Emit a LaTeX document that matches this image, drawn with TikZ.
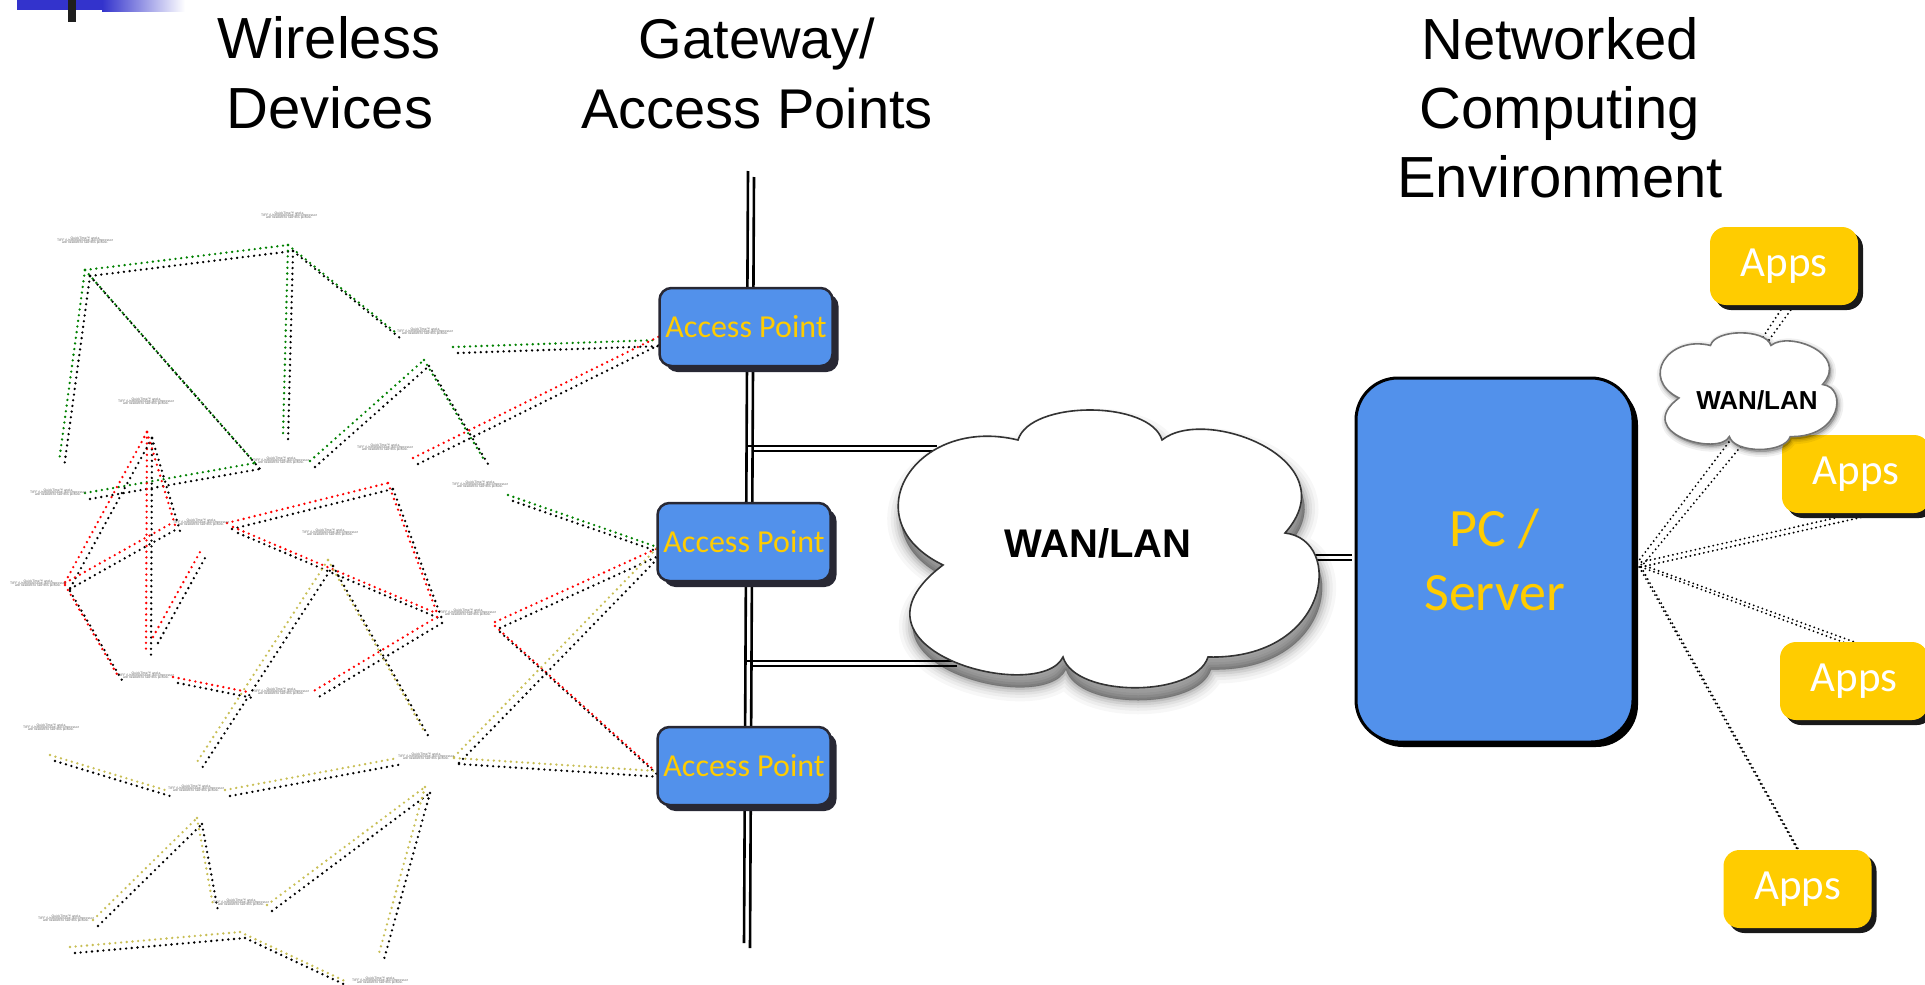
\documentclass[tikz,border=0pt]{standalone}
\usepackage{fontspec}
\setmainfont{Liberation Sans}
\newfontfamily\carlito{Carlito}
\usetikzlibrary{shadows,calc}
\pgfdeclarelayer{bg}
\pgfsetlayers{bg,main}
% let tightly packed caption lines overlap instead of being pushed apart
\lineskiplimit=-20pt

\definecolor{boxblue}{RGB}{82,145,235}
\definecolor{apborder}{RGB}{40,40,52}
\definecolor{gold}{RGB}{255,204,0}
\definecolor{meshgreen}{RGB}{0,128,0}
\definecolor{meshred}{RGB}{255,0,0}
\definecolor{mesholive}{RGB}{200,190,85}
\definecolor{barblue}{RGB}{51,51,204}

\tikzset{
  meshdots/.style={line width=2.6pt, line cap=round, dash pattern=on 0pt off 5.7pt},
  linkdots/.style={line width=2.1pt, line cap=round, dash pattern=on 0pt off 4.6pt, black},
  busline/.style={line width=2.6pt, black},
  headline/.style={font=\fontsize{58}{69}\selectfont, anchor=base, inner sep=0pt},
  gatehead/.style={font=\fontsize{56}{69}\selectfont, anchor=base, inner sep=0pt},
  apbox/.style={rectangle, rounded corners=12pt, fill=boxblue, draw=apborder,
    line width=2.5pt, minimum width=173pt, minimum height=78pt, inner sep=0pt,
    font=\carlito\fontsize{32}{36}\selectfont, text=gold,
    drop shadow={shadow xshift=6pt, shadow yshift=-6pt, fill=apborder, opacity=1}},
  pcbox/.style={rectangle, rounded corners=42pt, fill=boxblue, draw=black,
    line width=3pt, minimum width=277pt, minimum height=364pt, inner sep=0pt,
    align=center, font=\carlito\fontsize{54}{64}\selectfont, text=gold,
    drop shadow={shadow xshift=5pt, shadow yshift=-5pt, fill=black, opacity=1}},
  appsbox/.style={rectangle, rounded corners=16pt, fill=gold,
    minimum width=148pt, minimum height=78pt, inner sep=0pt,
    font=\carlito\fontsize{43}{48}\selectfont, text=white,
    drop shadow={shadow xshift=5pt, shadow yshift=-5pt, fill=black!90, opacity=1}},
  cloudtext/.style={font=\bfseries\fontsize{40}{44}\selectfont, inner sep=0pt},
  smallcloudtext/.style={font=\bfseries\fontsize{26}{30}\selectfont, inner sep=0pt},
  qtlabel/.style={anchor=west, inner sep=0pt, align=center, text=black!60,
    font=\fontsize{3.4}{2}\selectfont},
}

% one mesh link: black shadow copy, then the coloured dotted line
\newcommand\meshseg[3]{%
  \draw[meshdots, black, shift={(5,6)}] #2 -- #3;
  \draw[meshdots, #1] #2 -- #3;}

% outline of a cloud, centred on the origin
\newcommand\cloudoutline{(-168,16.5) .. controls (-261,-28.5) and (-196,-133.5) .. (-93,-108.5)
  .. controls (-81,-148.5) and (39,-148.5) .. (51,-108.5)
  .. controls (94,-143.5) and (239,-88.5) .. (174,-15.5)
  .. controls (234,-8.5) and (219,111.5) .. (97,108.5)
  .. controls (84,149.5) and (-36,149.5) .. (-48,108.5)
  .. controls (-71,156.5) and (-281,101.5) .. (-168,16.5) -- cycle}

\begin{document}
\begin{tikzpicture}[x=1pt, y=-1pt]
\useasboundingbox (0,0) rectangle (1925,985);

% corner ornament
\fill[barblue] (17,0) rectangle (102,10);
\shade[left color=barblue, right color=white] (102,0) rectangle (185,11);
\fill[black!88] (68,0) rectangle (76,22);

% column headings
\node[headline] (hw1) at (329,58) {Wireless};
\node[headline] (hw2) at (330,128) {Devices};
\node[gatehead] (hg1) at (757,58) {Gateway/};
\node[gatehead] (hg2) at (757,128) {Access Points};
\node[headline] (hn1) at (1560,59) {Networked};
\node[headline] (hn2) at (1560,128) {Computing};
\node[headline] (hn3) at (1560,197) {Environment};

% wireless mesh
\meshseg{meshgreen}{(85,270)}{(288,245)}
\meshseg{meshgreen}{(85,270)}{(59,462)}
\meshseg{meshgreen}{(85,270)}{(255,463)}
\meshseg{meshgreen}{(288,245)}{(283,436)}
\meshseg{meshgreen}{(288,245)}{(395,332)}
\meshseg{meshgreen}{(453,347)}{(658,340)}
\meshseg{meshgreen}{(310,461)}{(424,360)}
\meshseg{meshgreen}{(424,360)}{(483,458)}
\meshseg{meshgreen}{(85,493)}{(255,463)}
\meshseg{meshgreen}{(508,495)}{(657,547)}

\meshseg{meshred}{(413,458)}{(660,336)}
\meshseg{meshred}{(147,432)}{(146,650)}
\meshseg{meshred}{(147,432)}{(63,586)}
\meshseg{meshred}{(147,432)}{(175,525)}
\meshseg{meshred}{(65,583)}{(172,523)}
\meshseg{meshred}{(65,585)}{(118,676)}
\meshseg{meshred}{(173,677)}{(248,692)}
\meshseg{meshred}{(227,523)}{(388,483)}
\meshseg{meshred}{(388,483)}{(437,613)}
\meshseg{meshred}{(233,527)}{(436,613)}
\meshseg{meshred}{(437,617)}{(312,692)}
\meshseg{meshred}{(495,622)}{(658,548)}
\meshseg{meshred}{(495,626)}{(655,771)}
\meshseg{meshred}{(153,637)}{(200,552)}

\meshseg{mesholive}{(328,560)}{(197,762)}
\meshseg{mesholive}{(328,560)}{(425,733)}
\meshseg{mesholive}{(454,757)}{(657,548)}
\meshseg{mesholive}{(454,758)}{(657,771)}
\meshseg{mesholive}{(50,755)}{(165,790)}
\meshseg{mesholive}{(225,790)}{(398,758)}
\meshseg{mesholive}{(93,920)}{(197,818)}
\meshseg{mesholive}{(197,818)}{(213,905)}
\meshseg{mesholive}{(267,905)}{(425,787)}
\meshseg{mesholive}{(425,787)}{(378,957)}
\meshseg{mesholive}{(70,947)}{(240,932)}
\meshseg{mesholive}{(240,932)}{(347,982)}

% device placeholders
\foreach \x/\y [count=\i] in {261/216, 57/241, 397/332, 118/402, 357/448, 253/461,
    30/493, 452/485, 173/523, 302/533, 10/584, 118/676, 253/692, 440/613,
    23/728, 398/757, 168/789, 213/903, 38/919, 352/981}
  \node[qtlabel] (qt\i) at (\x,\y)
    {QuickTime™ and a\\TIFF (Uncompressed) decompressor\\are needed to see this picture.};

% access points, server and applications
\node[apbox] (ap1) at (746,327) {Access Point};
\node[apbox] (ap2) at (744,542) {Access Point};
\node[apbox] (ap3) at (744,766) {Access Point};
\node[pcbox] (pc) at (1494.5,560) {PC /\\Server};
\node[appsbox] (apps1) at (1784,266) {Apps};
\node[appsbox] (apps2) at (1856,474) {Apps};
\node[appsbox] (apps3) at (1854,681) {Apps};
\node[appsbox] (apps4) at (1797.5,889) {Apps};

% main network cloud, with a soft shadow falling below it
\begin{scope}[shift={(1114,561)}]
  \foreach \w/\o in {28/0.03, 21/0.04, 15/0.05, 10/0.07, 5/0.09, 1/0.12}
    \path[fill=black, draw=black, line width=\w pt, opacity=\o, line join=round] \cloudoutline;
\end{scope}
\begin{scope}[shift={(1111,548.5)}]
  \path[fill=white, draw=black!80, line width=1.6pt] \cloudoutline;
\end{scope}
\node[cloudtext] (wan) at (1098,543) {WAN/LAN};

% small cloud between the server and its applications
\begin{scope}[shift={(1751,393.5)}, scale=0.42]
  \foreach \w/\o in {10/0.06, 6/0.08, 3/0.1}
    \path[fill=black, draw=black, line width=\w pt, opacity=\o, line join=round] \cloudoutline;
\end{scope}
\begin{scope}[shift={(1749.5,391)}, scale=0.42]
  \path[fill=white, draw=black!55, line width=1.6pt] \cloudoutline;
\end{scope}
\node[smallcloudtext] (wansmall) at (1757,400) {WAN/LAN};

% connection points
\coordinate (busLtop) at (748,171);  \coordinate (busLbot) at (744,943);
\coordinate (busRtop) at (754,177);  \coordinate (busRbot) at (750,948);
\coordinate (upA) at (746,446);  \coordinate (upAc) at (937,446);
\coordinate (upB) at (752,451);  \coordinate (upBc) at (937,451);
\coordinate (loA) at (746,661);  \coordinate (loAc) at (957,661);
\coordinate (loB) at (752,666);  \coordinate (loBc) at (957,666);
\coordinate (wanE1) at (1303,555); \coordinate (pcW1) at (1352,555);
\coordinate (wanE2) at (1309,560); \coordinate (pcW2) at (1352,560);
\coordinate (pcport) at (1637,563);
\coordinate (pcportb) at (1641,567);
\coordinate (scBot) at (1732,438); \coordinate (scBotb) at (1742,445);
\coordinate (scTop) at (1763,337); \coordinate (scTopb) at (1769,340);

\begin{pgfonlayer}{bg}
  % gateway backbone
  \draw[busline] (busLtop) -- (busLbot);
  \draw[busline] (busRtop) -- (busRbot);
  \draw[busline] (upA) -- (upAc);
  \draw[busline] (upB) -- (upBc);
  \draw[busline] (loA) -- (loAc);
  \draw[busline] (loB) -- (loBc);
  \draw[busline, line width=2.4pt] (wanE1) -- (pcW1);
  \draw[busline, line width=2.4pt] (wanE2) -- (pcW2);
  % server to applications
  \draw[linkdots] (pcport) -- (scBot);
  \draw[linkdots] (pcportb) -- (scBotb);
  \draw[linkdots] (scTop) -- (apps1.south);
  \draw[linkdots] (scTopb) -- ($(apps1.south)+(8,3)$);
  \draw[linkdots] (pcport) -- (apps2.south);
  \draw[linkdots] (pcportb) -- ($(apps2.south)+(6,4)$);
  \draw[linkdots] (pcport) -- (apps3.north);
  \draw[linkdots] (pcportb) -- ($(apps3.north)+(7,7)$);
  \draw[linkdots] (pcport) -- (apps4.north);
  \draw[linkdots] (pcportb) -- ($(apps4.north)+(5,7)$);
\end{pgfonlayer}
\end{tikzpicture}
\end{document}
